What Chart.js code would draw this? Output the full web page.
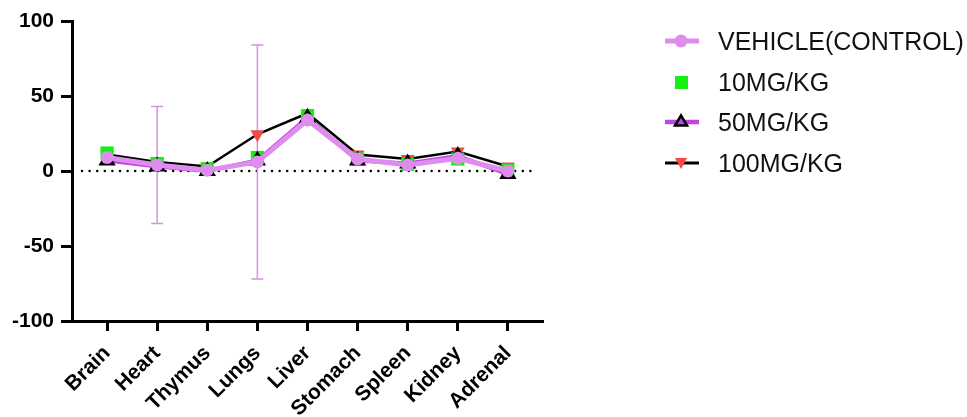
<!DOCTYPE html>
<html>
<head>
<meta charset="utf-8">
<script src="https://cdn.jsdelivr.net/npm/chart.js@4"></script>
<style>
  html, body { margin: 0; padding: 0; background: #fff; }
  #wrap { position: relative; width: 967px; height: 417px; }
  #legend { position: absolute; left: 660px; top: 0; font-family: "Liberation Sans", Arial, sans-serif; font-size: 25px; color: #111; }
  .item { position: absolute; left: 0; height: 30px; width: 310px; display: flex; align-items: center; white-space: nowrap; }
  .item svg { width: 44px; height: 30px; margin-right: 14px; }
</style>
</head>
<body>
<div id="wrap">
  <canvas id="chart" width="967" height="417"></canvas>
  <div id="legend"></div>
</div>
<script>
const organs = ['Brain', 'Heart', 'Thymus', 'Lungs', 'Liver', 'Stomach', 'Spleen', 'Kidney', 'Adrenal'];
const yTicks = [-100, -50, 0, 50, 100];

const vehicle = [9, 4, 0.5, 6, 34, 8, 4, 8.5, 0];
const vehicleSd = [0, 39, 0, 78, 0, 0, 0, 0, 0];
const mg10 = [12, 5, 1.5, 9, 36.5, 8, 4.5, 8, 0.5];
const mg50 = [7, 3, 0, 7, 35.5, 7, 5, 10, -2];
const mg100 = [11, 6, 3, 24.5, 38.5, 11, 8, 13, 3];

const labels = ['VEHICLE(CONTROL)', '10MG/KG', '50MG/KG', '100MG/KG'];

const pink = 'rgb(222,140,238)';
const purple = 'rgb(190,70,228)';
const green = 'rgb(20,240,20)';
const red = 'rgb(242,72,72)';

function pts(arr) {
    return arr.map((v, i) => ({ x: i, y: v }));
}

// dotted line at y = 0 and SD bars for the vehicle group
const extras = {
    id: 'extras',
    beforeDatasetsDraw(chart) {
        const ctx = chart.ctx;
        const xs = chart.scales.x, ys = chart.scales.y;
        const area = chart.chartArea;
        const y0 = ys.getPixelForValue(0);
        ctx.save();
        ctx.strokeStyle = '#000';
        ctx.lineWidth = 2.5;
        ctx.lineCap = 'round';
        ctx.setLineDash([0, 7.6]);
        ctx.beginPath();
        ctx.moveTo(area.left + 10, y0);
        ctx.lineTo(area.right - 10, y0);
        ctx.stroke();
        ctx.setLineDash([]);
        ctx.lineCap = 'butt';
        ctx.strokeStyle = pink;
        ctx.lineWidth = 1.5;
        vehicle.forEach((v, i) => {
            const sd = vehicleSd[i];
            if (!sd) return;
            const x = xs.getPixelForValue(i);
            const top = ys.getPixelForValue(v + sd);
            const bot = ys.getPixelForValue(v - sd);
            ctx.beginPath();
            ctx.moveTo(x, top); ctx.lineTo(x, bot);
            ctx.moveTo(x - 6, top); ctx.lineTo(x + 6, top);
            ctx.moveTo(x - 6, bot); ctx.lineTo(x + 6, bot);
            ctx.stroke();
        });
        ctx.restore();
    }
};

const ctx = document.getElementById('chart').getContext('2d');
const chart = new Chart(ctx, {
    type: 'line',
    data: {
        datasets: [{
            label: labels[0],
            data: pts(vehicle),
            borderColor: pink,
            backgroundColor: pink,
            borderWidth: 5,
            pointStyle: 'circle',
            pointRadius: 6.5,
            pointBorderWidth: 0,
            order: 0
        }, {
            label: labels[1],
            data: pts(mg10),
            showLine: false,
            backgroundColor: green,
            borderColor: green,
            pointStyle: 'rect',
            pointRadius: 9.3,
            pointBorderWidth: 0,
            order: 2
        }, {
            label: labels[2],
            data: pts(mg50),
            borderColor: purple,
            backgroundColor: 'rgba(0,0,0,0)',
            borderWidth: 4,
            pointStyle: 'triangle',
            pointRadius: 7.5,
            pointBorderColor: '#000',
            pointBorderWidth: 2.5,
            order: 1
        }, {
            label: labels[3],
            data: pts(mg100),
            borderColor: '#000',
            backgroundColor: red,
            borderWidth: 2.5,
            pointStyle: 'triangle',
            rotation: 180,
            pointRadius: 8,
            pointBorderWidth: 0,
            order: 3
        }]
    },
    options: {
        responsive: false,
        animation: false,
        layout: { padding: { left: 0, right: 424, top: 21, bottom: 0 } },
        plugins: {
            legend: { display: false },
            tooltip: { enabled: false }
        },
        scales: {
            x: {
                type: 'linear',
                min: -0.7,
                max: 8.7,
                afterBuildTicks: s => { s.ticks = organs.map((o, i) => ({ value: i })); },
                afterFit: s => { s.height = 96; },
                border: { display: true, color: '#000', width: 3 },
                grid: { drawOnChartArea: false, drawTicks: true, tickLength: 10, tickWidth: 3, tickColor: '#000' },
                ticks: {
                    autoSkip: false,
                    minRotation: 45,
                    maxRotation: 45,
                    color: '#000',
                    padding: 10,
                    font: { family: 'Liberation Sans', size: 21, weight: 'bold' },
                    callback: v => organs[v]
                }
            },
            y: {
                min: -100,
                max: 100,
                afterBuildTicks: s => { s.ticks = yTicks.map(v => ({ value: v })); },
                afterFit: s => { s.width = 72; },
                border: { display: true, color: '#000', width: 3 },
                grid: { drawOnChartArea: false, drawTicks: true, tickLength: 11, tickWidth: 3, tickColor: '#000' },
                ticks: {
                    color: '#000',
                    padding: 7,
                    font: { family: 'Liberation Sans', size: 21, weight: 'bold' }
                }
            }
        }
    },
    plugins: [extras]
});

// legend built next to the chart
const legendSvg = [
    `<line x1="5" y1="15" x2="39" y2="15" stroke="${pink}" stroke-width="5"/><circle cx="21" cy="15" r="6.5" fill="${pink}"/>`,
    `<rect x="15" y="9" width="13" height="13" fill="${green}"/>`,
    `<line x1="5" y1="15" x2="39" y2="15" stroke="${purple}" stroke-width="4.5"/><polygon points="21,8.5 27,18.5 15,18.5" fill="${purple}" stroke="#000" stroke-width="2.5" stroke-linejoin="miter"/>`,
    `<line x1="5" y1="15" x2="39" y2="15" stroke="#000" stroke-width="3"/><polygon points="15,10 27,10 21,21" fill="${red}"/>`
];
const rowY = [41, 82, 122, 163];
const legend = document.getElementById('legend');
labels.forEach((l, i) => {
    const d = document.createElement('div');
    d.className = 'item';
    d.style.top = (rowY[i] - 15) + 'px';
    d.innerHTML = `<svg viewBox="0 0 44 30">${legendSvg[i]}</svg><span>${l}</span>`;
    legend.appendChild(d);
});
</script>
</body>
</html>
